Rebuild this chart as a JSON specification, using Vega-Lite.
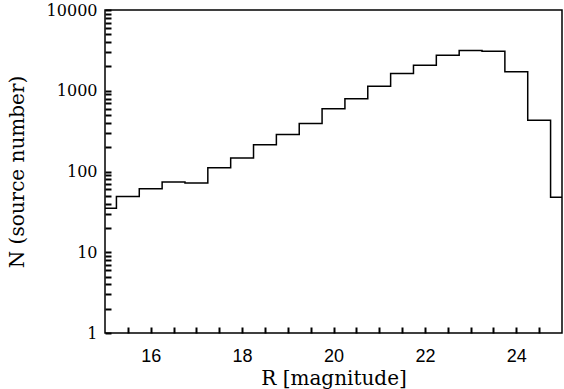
{
  "$schema": "https://vega.github.io/schema/vega-lite/v6.json",
  "width": 457,
  "height": 323,
  "autosize": "none",
  "padding": {"left": 105, "top": 10, "right": 2, "bottom": 56},
  "background": "white",
  "config": {
    "view": {"stroke": "black", "strokeWidth": 1.5},
    "axis": {
      "labelColor": "black",
      "titleColor": "black",
      "titleFont": "DejaVu Serif",
      "titleFontSize": 20,
      "titleFontWeight": "normal"
    }
  },
  "data": {
    "values": [
      {"R": 15.0, "N": 35},
      {"R": 15.25, "N": 49},
      {"R": 15.75, "N": 61},
      {"R": 16.25, "N": 74},
      {"R": 16.75, "N": 72},
      {"R": 17.25, "N": 111},
      {"R": 17.75, "N": 147},
      {"R": 18.25, "N": 214},
      {"R": 18.75, "N": 287},
      {"R": 19.25, "N": 392},
      {"R": 19.75, "N": 597},
      {"R": 20.25, "N": 794},
      {"R": 20.75, "N": 1137},
      {"R": 21.25, "N": 1634},
      {"R": 21.75, "N": 2070},
      {"R": 22.25, "N": 2755},
      {"R": 22.75, "N": 3148},
      {"R": 23.25, "N": 3090},
      {"R": 23.75, "N": 1715},
      {"R": 24.25, "N": 431},
      {"R": 24.75, "N": 48},
      {"R": 25.0, "N": 48}
    ]
  },
  "mark": {"type": "line", "interpolate": "step-after", "color": "black", "strokeWidth": 1.5, "clip": true},
  "encoding": {
    "x": {
      "field": "R", "type": "quantitative",
      "scale": {"domain": [15, 25], "nice": false, "zero": false},
      "axis": {
        "orient": "bottom",
        "zindex": 1,
        "grid": false, "domain": false, "labelOverlap": false, "labelFlush": false,
        "ticks": true, "tickColor": "black", "tickWidth": 2, "tickOpacity": 1,
        "title": "R [magnitude]",
        "titleY": 51,
        "titleBaseline": "alphabetic",
        "values": [15.5, 16, 16.5, 17, 17.5, 18, 18.5, 19, 19.5, 20, 20.5, 21, 21.5, 22, 22.5, 23, 23.5, 24, 24.5],
        "labelExpr": "datum.value % 2 === 0 ? format(datum.value, 'd') : ''",
        "tickSize": -6,
        "labelPadding": 34,
        "labelBaseline": "alphabetic",
        "labelFont": "Liberation Sans",
        "labelFontSize": 18
      }
    },
    "y": {
      "field": "N", "type": "quantitative",
      "scale": {"type": "log", "domain": [1, 10000], "nice": false},
      "axis": {
        "orient": "left",
        "zindex": 1,
        "grid": false, "domain": false, "labelOverlap": false, "labelFlush": false,
        "ticks": true, "tickColor": "black", "tickWidth": 2, "tickOpacity": 1,
        "title": "N (source number)",
        "titleX": -82,
        "titleY": 161.5,
        "titleAngle": 270,
        "titleBaseline": "alphabetic",
        "titleAlign": "center",
        "values": [1, 2, 3, 4, 5, 6, 7, 8, 9, 10, 20, 30, 40, 50, 60, 70, 80, 90, 100, 200, 300, 400, 500, 600, 700, 800, 900, 1000, 2000, 3000, 4000, 5000, 6000, 7000, 8000, 9000, 10000],
        "format": "d",
        "labelExpr": "indexof([1,10,100,1000,10000], datum.value) >= 0 ? format(datum.value, 'd') : ''",
        "tickSize": -6,
        "labelPadding": 14,
        "labelFont": "DejaVu Serif",
        "labelFontSize": 16
      }
    }
  }
}
